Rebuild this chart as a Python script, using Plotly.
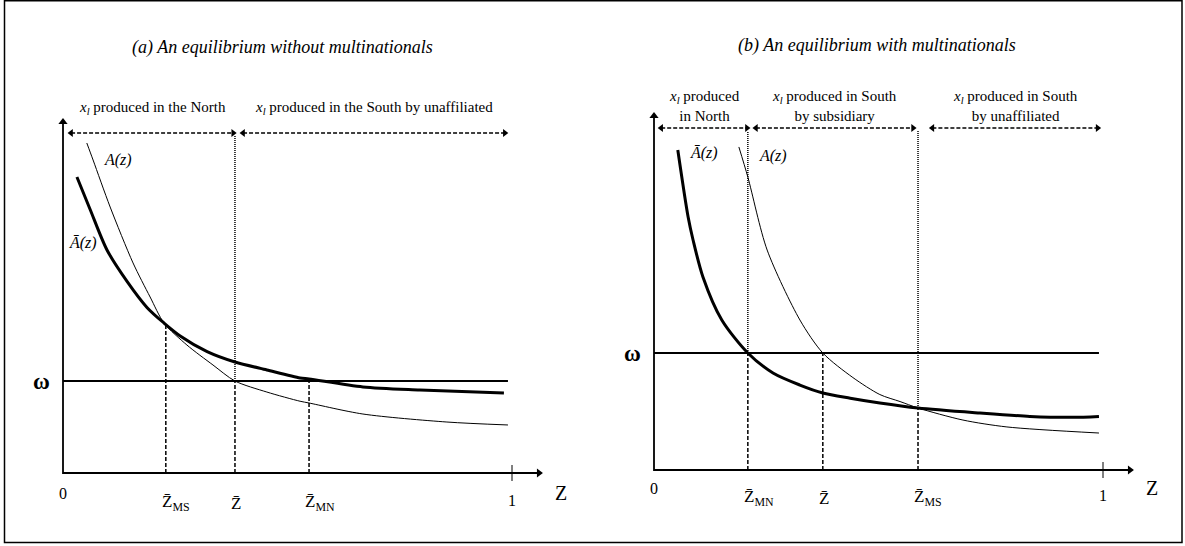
import numpy as np
import plotly.graph_objects as go

W, H = 1185, 546
FONT = "Liberation Serif, Times New Roman, DejaVu Serif, serif"

# ---------------- data: panel (a) ----------------
a_z_A = [0.053, 0.067, 0.105, 0.156, 0.194, 0.225, 0.276, 0.334, 0.383, 0.454, 0.528, 0.548, 0.668, 0.855, 0.991]
a_A = [3.587, 3.402, 2.891, 2.283, 1.913, 1.630, 1.391, 1.174, 1.000, 0.880, 0.780, 0.761, 0.641, 0.554, 0.522]
a_z_Abar = [0.031, 0.060, 0.098, 0.143, 0.187, 0.225, 0.261, 0.321, 0.383, 0.454, 0.528, 0.548, 0.668, 0.795, 0.982]
a_Abar = [3.217, 2.870, 2.424, 2.080, 1.800, 1.630, 1.490, 1.320, 1.207, 1.120, 1.033, 1.022, 0.935, 0.902, 0.870]
a_omega = 1.0
a_cut_z = [0.229, 0.383, 0.548]
a_cut_sub = ["MS", "", "MN"]
a_region_text = ["<i>x</i><sub><i>l</i></sub> produced in the North",
                 "<i>x</i><sub><i>l</i></sub> produced in the South by unaffiliated"]
a_region_start = [0.018, 0.401]
a_region_end = [0.379, 0.984]
a_title = "(a) An equilibrium without multinationals"

# ---------------- data: panel (b) ----------------
b_z_A = [0.189, 0.209, 0.252, 0.325, 0.376, 0.443, 0.503, 0.548, 0.588, 0.688, 0.786, 0.991]
b_A = [2.761, 2.504, 1.880, 1.282, 1.000, 0.790, 0.645, 0.585, 0.530, 0.427, 0.368, 0.316]
b_z_Abar = [0.053, 0.076, 0.087, 0.109, 0.151, 0.209, 0.265, 0.325, 0.376, 0.437, 0.503, 0.588, 0.726, 0.837, 0.933, 0.991]
b_Abar = [2.735, 2.162, 1.966, 1.650, 1.282, 1.000, 0.829, 0.726, 0.658, 0.614, 0.573, 0.530, 0.487, 0.458, 0.450, 0.458]
b_omega = 1.0
b_cut_z = [0.209, 0.376, 0.588]
b_cut_sub = ["MN", "", "MS"]
b_region_text = ["<i>x</i><sub><i>l</i></sub> produced<br>in North",
                 "<i>x</i><sub><i>l</i></sub> produced in South<br>by subsidiary",
                 "<i>x</i><sub><i>l</i></sub> produced in South<br>by unaffiliated"]
b_region_start = [0.016, 0.227, 0.620]
b_region_end = [0.207, 0.577, 0.988]
b_title = "(b) An equilibrium with multinationals"

# ---------------- layout calibration (pixels) ----------------
SPLIT = 592
cal = {
    "a": dict(x0=63, x1=512, y0=473, y1=381, dom=(0, SPLIT)),
    "b": dict(x0=654, x1=1103, y0=470, y1=353, dom=(SPLIT, W)),
}

fig = go.Figure()
layout_axes = {}
for i, key in enumerate(["a", "b"]):
    c = cal[key]
    sx = c["x1"] - c["x0"]
    sy = c["y0"] - c["y1"]
    xr = [(c["dom"][0] - c["x0"]) / sx, (c["dom"][1] - c["x0"]) / sx]
    yr = [(c["y0"] - H) / sy, c["y0"] / sy]
    sfx = "" if i == 0 else str(i + 1)
    layout_axes["xaxis" + sfx] = dict(domain=[c["dom"][0] / W, c["dom"][1] / W], range=xr,
                                      visible=False, fixedrange=True, anchor="y" + sfx)
    layout_axes["yaxis" + sfx] = dict(domain=[0, 1], range=yr, visible=False, fixedrange=True,
                                      anchor="x" + sfx)

annotations = []


def txt_font(size, style="normal", weight="normal"):
    return dict(family=FONT, size=size, color="black", style=style, weight=weight)


def add_panel(xa, ya, z_A, A, z_Ab, Ab, omega, cut_z, cut_sub, cut_tops, reg_txt, reg_s, reg_e,
              reg_y, txt_y, title, title_x, title_y, y_top, lab_A, lab_Ab, lab_y0, lab_one_y,
              lab_zy, px_per_y):
    common = dict(xaxis=xa, yaxis=ya, hoverinfo="skip")
    # axes
    fig.add_trace(go.Scatter(x=[0, 0, 1.06], y=[y_top, 0, 0], mode="lines",
                             line=dict(color="black", width=1.8), **common))
    fig.add_trace(go.Scatter(x=[0], y=[y_top], mode="markers",
                             marker=dict(symbol="triangle-up", size=8, color="black"), **common))
    fig.add_trace(go.Scatter(x=[1.06], y=[0], mode="markers",
                             marker=dict(symbol="triangle-right", size=8, color="black"), **common))
    t = 8 / px_per_y
    fig.add_trace(go.Scatter(x=[1, 1], y=[-t, t], mode="lines", line=dict(color="black", width=1), **common))
    # omega line
    fig.add_trace(go.Scatter(x=[0, 0.991], y=[omega, omega], mode="lines",
                             line=dict(color="black", width=1.8), **common))
    # curves
    fig.add_trace(go.Scatter(x=z_A, y=A, mode="lines",
                             line=dict(color="black", width=1, shape="spline", smoothing=0.8), **common))
    fig.add_trace(go.Scatter(x=z_Ab, y=Ab, mode="lines",
                             line=dict(color="black", width=3, shape="spline", smoothing=0.8), **common))
    # vertical cut lines
    for zc, sub, (ybot_top, ytop) in zip(cut_z, cut_sub, cut_tops):
        fig.add_trace(go.Scatter(x=[zc, zc], y=[0, ybot_top], mode="lines",
                                 line=dict(color="black", width=1.5, dash="4px,2px"), **common))
        if ytop is not None:
            fig.add_trace(go.Scatter(x=[zc, zc], y=[ybot_top, ytop], mode="lines",
                                     line=dict(color="black", width=1.5, dash="1px,1px"), **common))
        txt = "Z\u0304" + (f"<sub>{sub}</sub>" if sub else "")
        annotations.append(dict(x=zc, y=lab_zy, xref=xa, yref=ya, text=txt, showarrow=False,
                                xanchor="left", xshift=-6, yanchor="middle", font=txt_font(17)))
    # region arrows
    for txt, s, e in zip(reg_txt, reg_s, reg_e):
        fig.add_trace(go.Scatter(x=[s, e], y=[reg_y, reg_y], mode="lines",
                                 line=dict(color="black", width=1.5, dash="4px,2px"), **common))
        fig.add_trace(go.Scatter(x=[s, e], y=[reg_y, reg_y], mode="markers",
                                 marker=dict(symbol=["triangle-left", "triangle-right"], size=7, color="black"),
                                 **common))
        annotations.append(dict(x=(s + e) / 2, y=txt_y, xref=xa, yref=ya, text=txt, showarrow=False,
                                xanchor="center", yanchor="middle", font=txt_font(15)))
    annotations.append(dict(x=title_x, y=title_y, xref=xa, yref=ya, text=title, showarrow=False,
                            xanchor="center", yanchor="middle", font=txt_font(18, style="italic")))
    annotations.append(dict(x=lab_A[0], y=lab_A[1], xref=xa, yref=ya, text="A(z)", showarrow=False,
                            xanchor="left", yanchor="middle", font=txt_font(16, style="italic")))
    annotations.append(dict(x=lab_Ab[0], y=lab_Ab[1], xref=xa, yref=ya, text="\u0100(z)", showarrow=False,
                            xanchor="left", yanchor="middle", font=txt_font(16, style="italic")))
    annotations.append(dict(x=0, y=lab_y0, xref=xa, yref=ya, text="0", showarrow=False,
                            xanchor="center", yanchor="middle", font=txt_font(16)))
    annotations.append(dict(x=1, y=lab_one_y, xref=xa, yref=ya, text="1", showarrow=False,
                            xanchor="center", yanchor="middle", font=txt_font(16)))
    annotations.append(dict(x=1.11, y=lab_y0, xref=xa, yref=ya, text="Z", showarrow=False,
                            xanchor="center", yanchor="middle", font=txt_font(20)))
    annotations.append(dict(x=-0.048, y=omega, xref=xa, yref=ya, text="\u03c9", showarrow=False,
                            xanchor="center", yanchor="middle", font=txt_font(23, weight="bold")))


# panel a
ca = cal["a"]
pya = ca["y0"] - ca["y1"]
a_tops = [
    (float(np.interp(a_cut_z[0], a_z_Abar, a_Abar)), None),
    (a_omega, (ca["y0"] - 136) / pya),
    (float(np.interp(a_cut_z[2], a_z_Abar, a_Abar)), None),
]
add_panel("x", "y", a_z_A, a_A, a_z_Abar, a_Abar, a_omega, a_cut_z, a_cut_sub, a_tops,
          a_region_text, a_region_start, a_region_end,
          reg_y=(ca["y0"] - 133) / pya, txt_y=(ca["y0"] - 108) / pya,
          title=a_title, title_x=0.488, title_y=(ca["y0"] - 47) / pya,
          y_top=(ca["y0"] - 122) / pya,
          lab_A=(0.087, (ca["y0"] - 160) / pya), lab_Ab=(0.009, (ca["y0"] - 243) / pya),
          lab_y0=(ca["y0"] - 493) / pya, lab_one_y=(ca["y0"] - 500) / pya,
          lab_zy=(ca["y0"] - 503) / pya, px_per_y=pya)

# panel b
cb = cal["b"]
pyb = cb["y0"] - cb["y1"]
b_tops = [
    (b_omega, (cb["y0"] - 132) / pyb),
    (b_omega, None),
    (float(np.interp(b_cut_z[2], b_z_Abar, b_Abar)), (cb["y0"] - 130) / pyb),
]
add_panel("x2", "y2", b_z_A, b_A, b_z_Abar, b_Abar, b_omega, b_cut_z, b_cut_sub, b_tops,
          b_region_text, b_region_start, b_region_end,
          reg_y=(cb["y0"] - 128) / pyb, txt_y=(cb["y0"] - 106) / pyb,
          title=b_title, title_x=0.497, title_y=(cb["y0"] - 45) / pyb,
          y_top=(cb["y0"] - 116) / pyb,
          lab_A=(0.229, (cb["y0"] - 156) / pyb), lab_Ab=(0.076, (cb["y0"] - 153) / pyb),
          lab_y0=(cb["y0"] - 488) / pyb, lab_one_y=(cb["y0"] - 495) / pyb,
          lab_zy=(cb["y0"] - 498) / pyb, px_per_y=pyb)

fig.update_layout(
    width=W, height=H, autosize=False,
    margin=dict(l=0, r=0, t=0, b=0),
    paper_bgcolor="white", plot_bgcolor="white",
    showlegend=False,
    annotations=annotations,
    shapes=[dict(type="rect", xref="paper", yref="paper",
                 x0=4.5 / W, x1=1182 / W, y0=1 - 542.5 / H, y1=1 - 0.8 / H,
                 line=dict(color="black", width=1.5), fillcolor="rgba(0,0,0,0)")],
    **layout_axes,
)

fig.write_html("out.html", post_script="document.body.style.margin='0px';", config={"displayModeBar": False})
